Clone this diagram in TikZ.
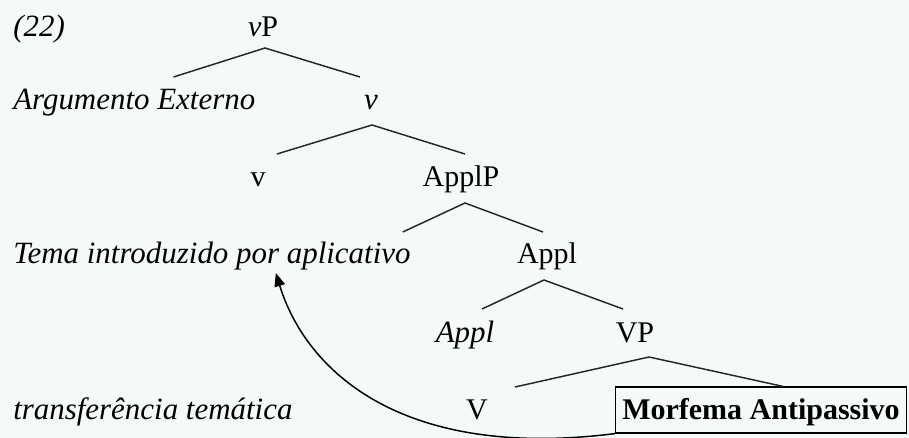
\documentclass[tikz,border=0pt]{standalone}
\usepackage{fontspec}
\setmainfont{Liberation Serif}
\usetikzlibrary{arrows.meta, calc}
\definecolor{bgPale}{RGB}{244,250,250}
\tikzset{
    % Tree labels
    lbl/.style={anchor=base, inner sep=0pt},
    lblIt/.style={lbl, font=\fontsize{23.2}{28}\selectfont\itshape},
    lblLeft/.style={lblIt, anchor=base west},
    branch/.style={line width=1.1pt, black!85},
    % Box & arrow
    morfBox/.style={draw, line width=0.9pt, anchor=base, inner xsep=5pt, inner ysep=0pt,
                    text height=24pt, text depth=10.5pt},
    flow/.style={-{Triangle[length=10pt, width=8pt]}, line width=1.1pt}
}

\begin{document}
\begin{tikzpicture}[x=0.75pt, y=-0.75pt, font=\fontsize{22.5}{27}\selectfont]

\fill[bgPale] (0,0) rectangle (909,438);
\useasboundingbox (0,0) rectangle (909,438);

\node[lblLeft] (ex) at (13,37) {(22)};
\node[lbl] (vP) at (263,37) {\textit{v}P};
\node[lblLeft] (arg) at (13,110) {Argumento Externo};
\node[lblIt] (vbar) at (371,110) {v};
\node[lbl] (vhead) at (258,187) {v};
\node[lbl] (applP) at (461,187) {ApplP};
\node[lblLeft] (tema) at (13,263) {Tema introduzido por aplicativo};
\node[lbl] (applbar) at (547,263) {Appl};
\node[lblIt] (applhead) at (465,342) {Appl};
\node[lbl] (VP) at (635,342) {VP};
\node[lblLeft] (transf) at (13,419) {transferência temática};
\node[lbl] (V) at (477,419) {V};
\node[morfBox] (morf) at (761,419) {\textbf{Morfema Antipassivo}};

\draw[branch] ($(arg.base east)+(-82,-33)$) -- ($(vP.base)+(2,11)$) -- ($(vbar.base)+(-11,-33)$);
\draw[branch] ($(vhead.base)+(19,-33)$) -- ($(vbar.base)+(1,15)$) -- ($(applP.base)+(4,-33)$);
\draw[branch] ($(tema.base east)+(-8,-31)$) -- ($(applP.base)+(4,16)$) -- ($(applbar.base)+(-4,-31)$);
\draw[branch] ($(applhead.base)+(17,-33)$) -- ($(applbar.base)+(-3,17)$) -- ($(VP.base)+(-12,-33)$);
\draw[branch] ($(V.base)+(38,-32)$) -- ($(VP.base)+(14,15)$) -- ($(morf.north)+(22,0)$);

\draw[flow] (morf.south west) .. controls +(-215,27) and +(30,97) .. ($(tema.base east)+(-135,10)$);

\end{tikzpicture}
\end{document}
